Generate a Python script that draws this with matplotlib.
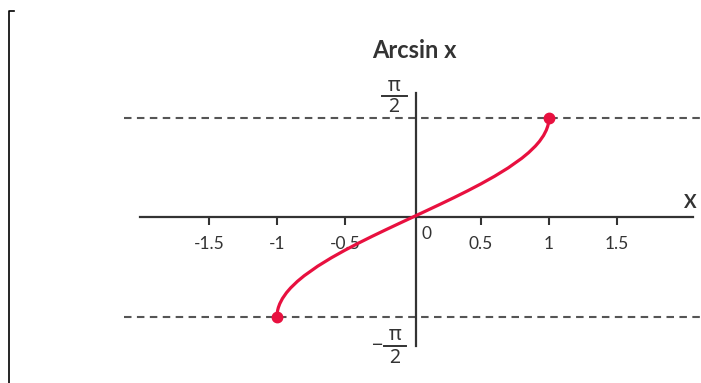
import matplotlib
matplotlib.use("Agg")
import matplotlib.pyplot as plt
from matplotlib.lines import Line2D

# Data: samples of y = arcsin(x) on [-1, 1]
x_pos = [0.0, 0.1, 0.2, 0.3, 0.4, 0.5, 0.6, 0.7, 0.8, 0.85, 0.9, 0.93, 0.96, 0.98, 0.99, 0.995, 0.999, 1.0]
y_pos = [0.0, 0.1002, 0.2014, 0.3047, 0.4115, 0.5236, 0.6435, 0.7754, 0.9273, 1.0160, 1.1198, 1.1944, 1.2870, 1.3705, 1.4293, 1.4708, 1.5261, 1.5708]
x_vals = [-v for v in x_pos[:0:-1]] + x_pos
y_vals = [-v for v in y_pos[:0:-1]] + y_pos
end_x = [-1.0, 1.0]
end_y = [-1.5708, 1.5708]
asymptotes = [1.5708, -1.5708]
xtick_vals = [-1.5, -1, -0.5, 0.5, 1, 1.5]
xtick_labels = ["-1.5", "-1", "-0.5", "0.5", "1", "1.5"]
title = "Arcsin x"

W, H = 701, 383
fig = plt.figure(figsize=(W / 100, H / 100), dpi=100)
ax = fig.add_axes([0, 0, 1, 1])

# pixel mapping helpers
px_per_x = 136.0
x0_px = 413.0
px_per_y = 99.5 / 1.5708
y0_px = 217.0
ax.set_xlim(-x0_px / px_per_x, (W - x0_px) / px_per_x)
ax.set_ylim(-(H - y0_px) / px_per_y, y0_px / px_per_y)


def dx(px):
    return (px - x0_px) / px_per_x


def dy(py):
    return (y0_px - py) / px_per_y


red = "#E8103F"
axcol = "#333333"
fam = ["Lato", "DejaVu Sans"]

# dashed asymptotes
ax.hlines(asymptotes, dx(124), dx(W), colors="#555555", linewidth=1.5,
          linestyles=(0, (3.6, 2.6)), zorder=1)

# curve
ax.plot(x_vals, y_vals, color=red, linewidth=2.3, solid_capstyle="round", zorder=3)
ax.plot(end_x, end_y, "o", color=red, markersize=7.5, zorder=4)

# axes as spines
for s in ["top", "right"]:
    ax.spines[s].set_visible(False)
ax.spines["bottom"].set_position(("data", 0))
ax.spines["left"].set_position(("data", 0.02))
ax.spines["bottom"].set_bounds(dx(140), dx(693))
ax.spines["left"].set_bounds(dy(346), dy(93))
for s in ["bottom", "left"]:
    ax.spines[s].set_color(axcol)
    ax.spines[s].set_linewidth(1.6)
ax.spines["bottom"].set_zorder(2)

ax.set_xticks(xtick_vals)
ax.set_xticklabels(xtick_labels, fontfamily=fam, fontsize=12.5, color=axcol)
ax.tick_params(axis="x", direction="out", length=6, width=1.5, color=axcol, pad=8)
ax.set_yticks([])

# zero label
ax.text(dx(427), dy(234), "0", fontfamily=fam, fontsize=12.5, color=axcol,
        ha="center", va="center")

# pi/2 labels (upright pi over 2)
ffam = ["Noto Sans", "DejaVu Sans"]
fs = 14
ax.text(dx(394), dy(86), "π", fontfamily=ffam, fontsize=fs, color=axcol,
        ha="center", va="center")
ax.plot([dx(382), dx(407)], [dy(95.5), dy(95.5)], color=axcol, linewidth=1.4)
ax.text(dx(394), dy(107.5), "2", fontfamily=ffam, fontsize=fs, color=axcol,
        ha="center", va="center")

ax.text(dx(377), dy(346), "−", fontfamily=ffam, fontsize=fs, color=axcol,
        ha="center", va="center")
ax.text(dx(395), dy(335), "π", fontfamily=ffam, fontsize=fs, color=axcol,
        ha="center", va="center")
ax.plot([dx(384), dx(406)], [dy(346), dy(346)], color=axcol, linewidth=1.4)
ax.text(dx(395), dy(358), "2", fontfamily=ffam, fontsize=fs, color=axcol,
        ha="center", va="center")

# title and X label
fig.text(414 / W, 1 - 50 / H, title, fontfamily=fam, fontweight="bold",
         fontsize=17, color=axcol, ha="center", va="center")
fig.text(690 / W, 1 - 202 / H, "X", fontfamily=fam, fontweight="bold", fontsize=13.5,
         color=axcol, ha="center", va="center")

# left bracket frame
fig.add_artist(Line2D([8.5 / W, 8.5 / W, 14 / W], [0, 1 - 11 / H, 1 - 11 / H],
                      transform=fig.transFigure, color="black", linewidth=1.2))

fig.savefig("out.png", dpi=100)
